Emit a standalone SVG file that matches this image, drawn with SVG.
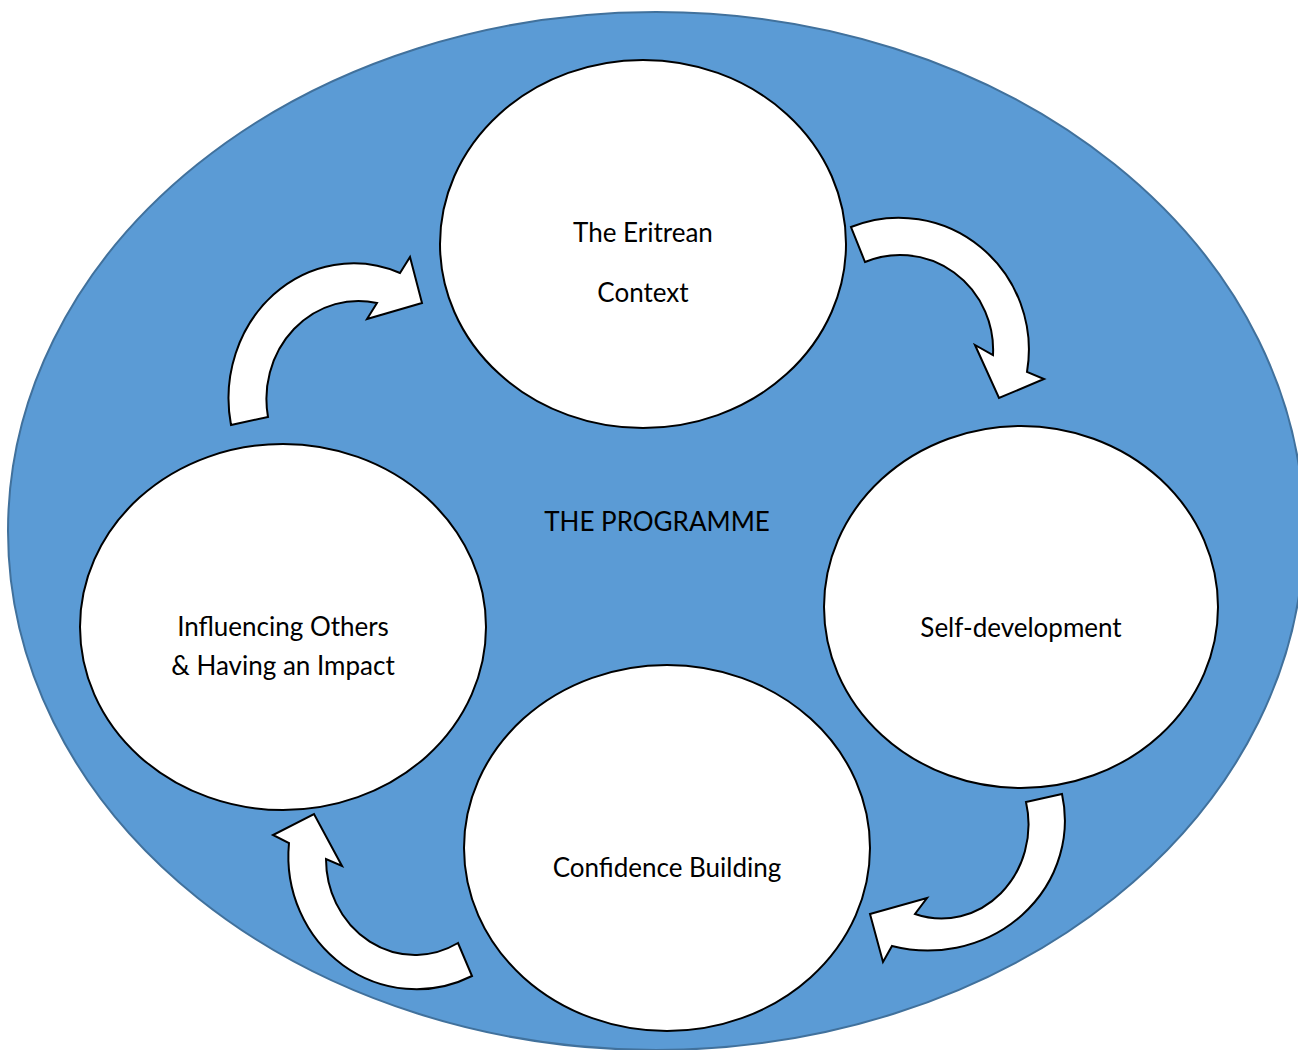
<svg xmlns="http://www.w3.org/2000/svg" width="1298" height="1050" viewBox="0 0 1298 1050">
<style>
.bg{fill:#5B9BD5;stroke:#41719C;stroke-width:2}
.node{fill:#FFFFFF;stroke:#000000;stroke-width:2}
.arrow{fill:#FFFFFF;stroke:#000000;stroke-width:2;stroke-linejoin:miter}
.lbl{font-family:Lato,"Open Sans","Liberation Sans",sans-serif;font-size:26px;fill:#000000;text-anchor:middle}
</style>
<rect width="1298" height="1050" fill="#FFFFFF"/>
<g id="programme">
<ellipse class="bg" cx="656" cy="531" rx="648" ry="519"/>
<text class="lbl" x="657" y="531">THE PROGRAMME</text>
</g>
<g id="connectors">
<path class="arrow" d="M851,227 A130,132 0 0 1 1027,372 L1044,379 L999,398 L975,345 L993,355 A93,95 0 0 0 865,262 Z"/>
<path class="arrow" d="M1062,794 A137,130 0 0 1 892,946 L883,962 L870,914 L927,898 L915,914 A87,94 0 0 0 1026,802 Z"/>
<path class="arrow" d="M472,976 A128,133 0 0 1 289,843 L273,835 L314,814 L342,866 L326,859 A89,96 0 0 0 458,943 Z"/>
<path class="arrow" d="M231,425 A125,135 0 0 1 400,273 L410,257 L422,303 L367,319 L377,303 A92,98 0 0 0 268,417 Z"/>
</g>
<g id="eritrean">
<ellipse class="node" cx="643" cy="244" rx="203" ry="184"/>
<text class="lbl" x="643" y="242">The Eritrean</text>
<text class="lbl" x="643" y="302">Context</text>
</g>
<g id="selfdev">
<ellipse class="node" cx="1021" cy="607" rx="197" ry="181"/>
<text class="lbl" x="1021" y="637">Self-development</text>
</g>
<g id="influencing">
<ellipse class="node" cx="283" cy="627" rx="203" ry="183"/>
<text class="lbl" x="283" y="636">Influencing Others</text>
<text class="lbl" x="283" y="675">&amp; Having an Impact</text>
</g>
<g id="confidence">
<ellipse class="node" cx="667" cy="848" rx="203" ry="183"/>
<text class="lbl" x="667" y="877">Confidence Building</text>
</g>
</svg>
